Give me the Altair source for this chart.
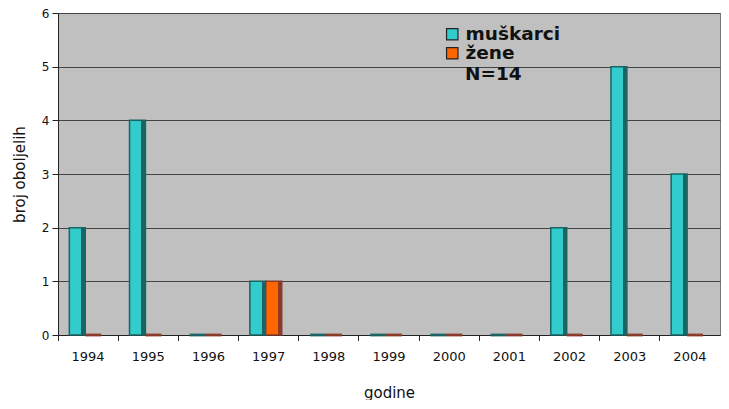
import altair as alt
import pandas as pd

years = ["1994", "1995", "1996", "1997", "1998", "1999", "2000", "2001", "2002", "2003", "2004"]
muskarci = [2, 4, 0, 1, 0, 0, 0, 0, 2, 5, 3]
zene = [0, 0, 0, 1, 0, 0, 0, 0, 0, 0, 0]
series = ["muškarci", "žene"]
colors = ["#33CCCC", "#FF6600"]
dark_colors = ["#1B6464", "#8C3A2A"]
note = "N=14"

rows = []
for i, y in enumerate(years):
    rows.append({"godina": y, "spol": series[0], "broj": muskarci[i]})
    rows.append({"godina": y, "spol": series[1], "broj": zene[i]})
df = pd.DataFrame(rows)

FONT = "DejaVu Sans"

xscale = alt.Scale(paddingInner=0, paddingOuter=0)
xoff_scale = alt.Scale(domain=series, paddingInner=0, paddingOuter=0.89, align=0.4)
yscale = alt.Scale(domain=[0, 6])

yaxis = alt.Axis(title="broj oboljelih", values=[0, 1, 2, 3, 4, 5, 6],
                 grid=True, gridColor="#444", gridWidth=1, tickSize=6,
                 tickColor="#222", domainColor="#222", labelPadding=3,
                 titlePadding=14, labelFontSize=12, titleFontSize=15,
                 labelColor="#111", titleColor="#111", titleFontWeight="normal")

tick_axis = alt.Axis(orient="bottom", labels=False, ticks=True, bandPosition=0,
                     tickSize=5, tickColor="#222", domain=False, title=None, grid=False)

base = alt.Chart(df)

bars = base.mark_bar().encode(
    x=alt.X("godina:N", scale=xscale, sort=years,
            axis=alt.Axis(orient="bottom", title="godine", labelAngle=0, ticks=False,
                          labelPadding=15, titlePadding=22, domainColor="#222",
                          labelFontSize=13, titleFontSize=15, labelColor="#111",
                          titleColor="#111", titleFontWeight="normal", grid=False)),
    xOffset=alt.XOffset("spol:N", scale=xoff_scale, sort=series),
    y=alt.Y("broj:Q", scale=yscale, axis=yaxis),
    color=alt.Color("spol:N", scale=alt.Scale(domain=series, range=colors), sort=series,
                    legend=alt.Legend(title=None, orient="none", legendX=385, legendY=12,
                                      symbolType="square", symbolSize=130,
                                      symbolStrokeColor="#222", symbolStrokeWidth=1.2,
                                      symbolOpacity=1, labelFontSize=18.5,
                                      labelFontWeight="bold", labelColor="#111",
                                      labelOffset=4, rowPadding=0, padding=0)),
)


def faced(name, face, side):
    grad = alt.Gradient(
        gradient="linear", x1=0, y1=0, x2=1, y2=0,
        stops=[alt.GradientStop(color=face, offset=0),
               alt.GradientStop(color=face, offset=0.74),
               alt.GradientStop(color=side, offset=0.75),
               alt.GradientStop(color=side, offset=1)])
    sub = base.transform_filter(alt.datum.spol == name)
    enc = dict(
        x=alt.X("godina:N", scale=xscale, sort=years, axis=tick_axis),
        xOffset=alt.XOffset("spol:N", scale=xoff_scale, sort=series),
        y=alt.Y("broj:Q", scale=yscale, axis=yaxis),
    )
    body = sub.mark_bar(color=grad, stroke=side, strokeWidth=1.5).encode(**enc)
    stub = sub.transform_filter(alt.datum.broj == 0).mark_tick(
        color=side, thickness=3, opacity=0.8
    ).encode(**enc)
    return [body, stub]


faces = []
for s, c, d in zip(series, colors, dark_colors):
    faces += faced(s, c, d)

label = alt.Chart(pd.DataFrame({"t": [note]})).mark_text(
    align="left", baseline="middle", fontSize=18.5, fontWeight="bold", font=FONT, color="#111"
).encode(x=alt.value(407), y=alt.value(61), text="t:N")

chart = alt.layer(bars, *faces, label).resolve_axis(x="independent").properties(
    width=662, height=322, padding={"left": 50, "top": 5, "right": 1, "bottom": 65},
    autosize=alt.AutoSizeParams(type="none"), background="white"
).configure(font=FONT).configure_view(
    fill="#C0C0C0", stroke="#777", strokeWidth=1
).configure_axis(labelFont=FONT, titleFont=FONT).configure_legend(labelFont=FONT)

chart.save("out.html", embed_options={"renderer": "svg", "actions": False})
